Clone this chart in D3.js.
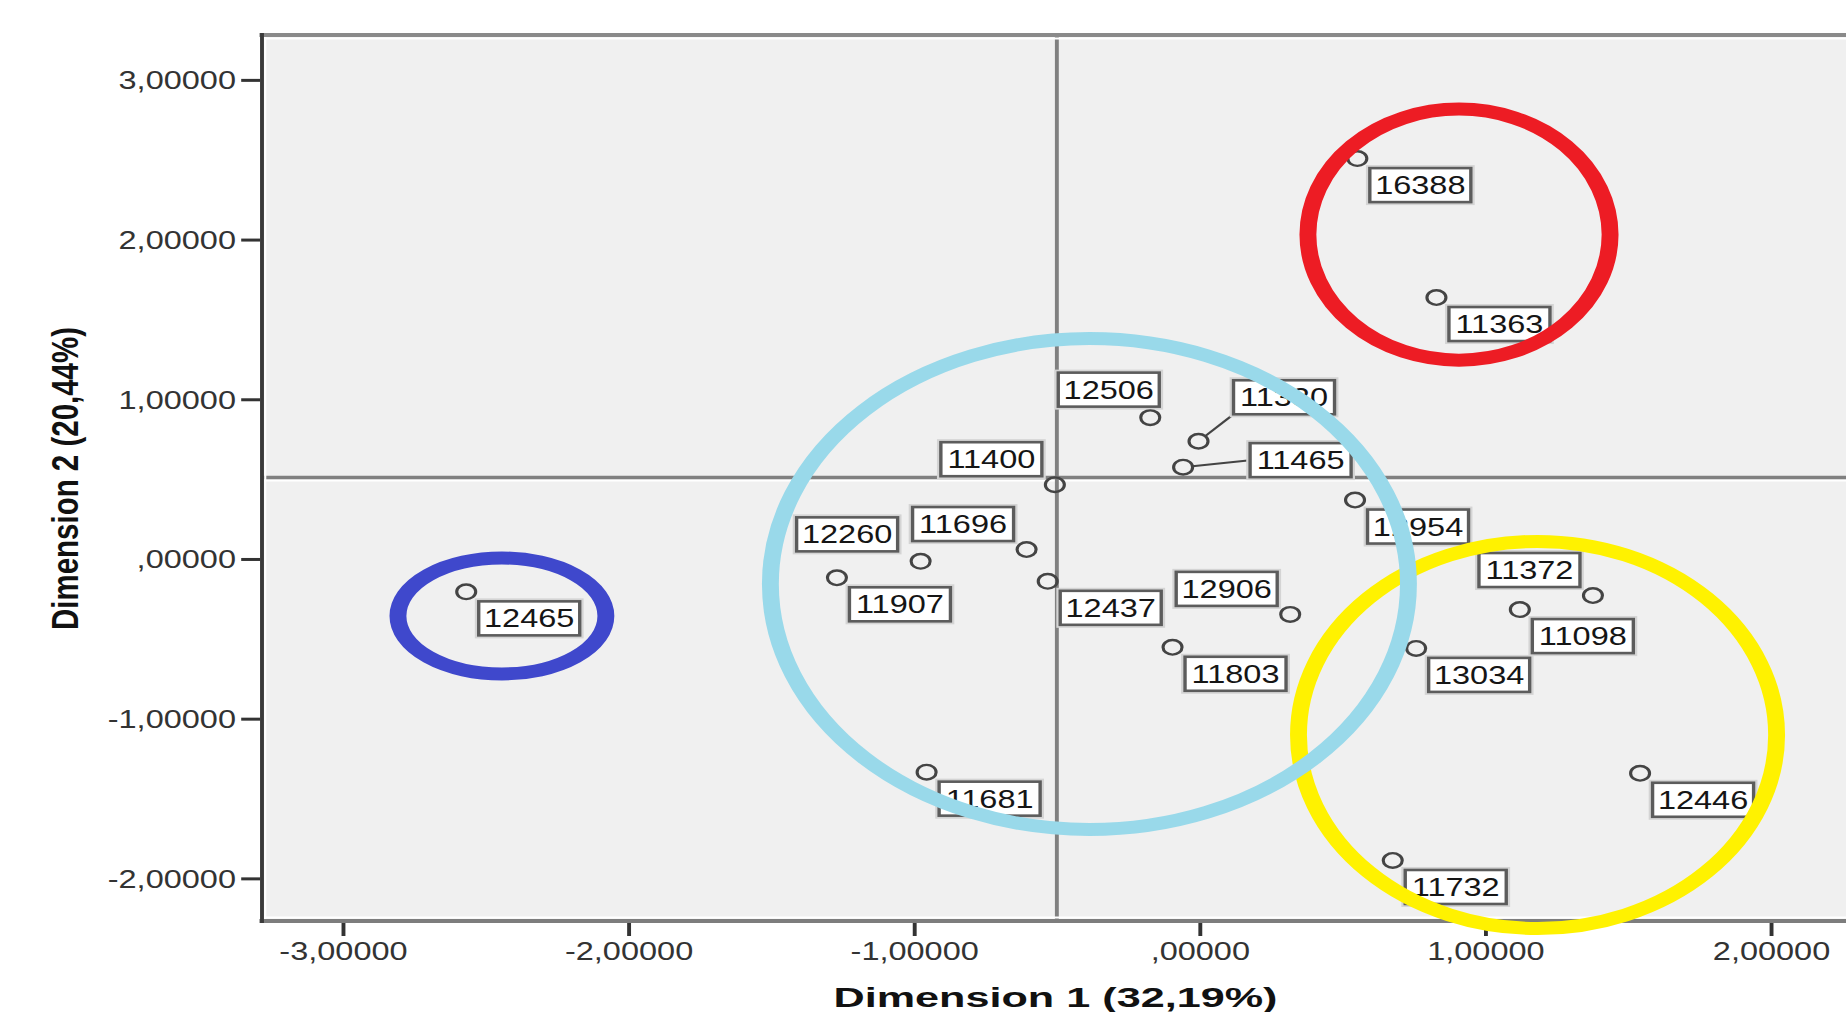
<!DOCTYPE html>
<html>
<head>
<meta charset="utf-8">
<script src="https://cdn.jsdelivr.net/npm/d3@7"></script>
<style>
  body { margin: 0; background: #ffffff; }
  svg { display: block; }
</style>
</head>
<body>
<svg id="chart" width="1846" height="1012"></svg>
<script>
// Object scores on the first two dimensions, one entry per case id
const caseIds = ["16388", "11363", "12506", "11330", "11465", "11400", "12954", "11696", "12260", "11907",
                 "12437", "12906", "11803", "11372", "11098", "13034", "12446", "11732", "11681", "12465"];
const dim1Scores = [0.552, 0.829, -0.173, -0.004, -0.058, -0.507, 0.544, -0.606, -0.977, -1.270,
                    -0.532, 0.317, -0.095, 1.377, 1.121, 0.758, 1.542, 0.676, -0.956, -2.568];
const dim2Scores = [2.507, 1.637, 0.885, 0.737, 0.575, 0.465, 0.369, 0.059, -0.015, -0.118,
                    -0.140, -0.347, -0.553, -0.229, -0.317, -0.560, -1.342, -1.888, -1.335, -0.206];

// Axis ticks with comma decimal labels
const xTickValues = [-3, -2, -1, 0, 1, 2];
const xTickLabels = ["-3,00000", "-2,00000", "-1,00000", ",00000", "1,00000", "2,00000"];
const yTickValues = [3, 2, 1, 0, -1, -2];
const yTickLabels = ["3,00000", "2,00000", "1,00000", ",00000", "-1,00000", "-2,00000"];

const xTitle = "Dimension 1 (32,19%)";
const yTitle = "Dimension 2 (20,44%)";

// Reference lines (score units)
const refX = -0.5;
const refY = 0.51;

// Cluster outlines: centre and radii in score units
const clusterCx = [1.183, -0.386, 0.908, -2.443];
const clusterCy = [-1.102, -0.157, 2.031, -0.357];
const clusterRx = [0.837, 1.117, 0.529, 0.364];
const clusterRy = [1.212, 1.537, 0.786, 0.363];

// ---------- layout and style ----------
const SX = 1.3;                       // horizontal stretch of the whole figure
const FONT = "'Liberation Sans', Arial, Helvetica, sans-serif";
const clusterColors = ["#fff200", "#99d9ea", "#ed1c24", "#3f48cc"];
const plot = { left: 262, top: 35, bottom: 921, right: 1858 };

// label box placement relative to its point (screen px, box top-left)
const placeBR = [12.5, 9.5];
const placeTL = [-114, -42.5];
const labelPlacement = {
  "12506": [-92, -45], "11330": [35, -61], "11465": [67, -24], "12260": [-124, -44],
  "11400": placeTL, "11696": placeTL, "12906": placeTL, "11372": placeTL
};
const leaderTo = { "11330": "bottomLeft", "11465": "midLeft" };
const BOX_W = 101, BOX_H = 34, PT_R = 7.3;

const svg = d3.select("#chart");
const root = svg.append("g").attr("transform", `scale(${SX},1)`);

const x = d3.scaleLinear().domain([-3.283, 2.305]).range([plot.left / SX, plot.right / SX]);
const y = d3.scaleLinear().domain([-2.267, 3.281]).range([plot.bottom, plot.top]);

const L = plot.left / SX, R = plot.right / SX;

// plot background
root.append("rect")
  .attr("x", L).attr("y", plot.top)
  .attr("width", R - L).attr("height", plot.bottom - plot.top)
  .attr("fill", "#f0f0f0");

// reference lines
root.append("line").attr("x1", L).attr("x2", R).attr("y1", y(refY) + 3).attr("y2", y(refY) + 3)
  .attr("stroke", "#ffffff").attr("stroke-width", 2);
root.append("line").attr("x1", L).attr("x2", R).attr("y1", y(refY)).attr("y2", y(refY))
  .attr("stroke", "#808080").attr("stroke-width", 3.5);
root.append("line").attr("x1", x(refX)).attr("x2", x(refX)).attr("y1", plot.top).attr("y2", plot.bottom)
  .attr("stroke", "#808080").attr("stroke-width", 3);

// frame
root.append("line").attr("x1", L).attr("x2", R).attr("y1", plot.top + 3.5).attr("y2", plot.top + 3.5)
  .attr("stroke", "#ffffff").attr("stroke-width", 2);
root.append("line").attr("x1", L).attr("x2", R).attr("y1", plot.bottom - 3.5).attr("y2", plot.bottom - 3.5)
  .attr("stroke", "#ffffff").attr("stroke-width", 2);
root.append("line").attr("x1", L + 2.5).attr("x2", L + 2.5).attr("y1", plot.top).attr("y2", plot.bottom)
  .attr("stroke", "#ffffff").attr("stroke-width", 1.6);
root.append("line").attr("x1", L - 2).attr("x2", R).attr("y1", plot.top).attr("y2", plot.top)
  .attr("stroke", "#8a8a8a").attr("stroke-width", 4);
root.append("line").attr("x1", L - 2).attr("x2", R).attr("y1", plot.bottom).attr("y2", plot.bottom)
  .attr("stroke", "#7d7d7d").attr("stroke-width", 4);
root.append("line").attr("x1", L).attr("x2", L).attr("y1", plot.top - 2).attr("y2", plot.bottom + 2)
  .attr("stroke", "#3a3a3a").attr("stroke-width", 3);

// axes
const xAxisG = root.append("g")
  .attr("transform", `translate(0,${plot.bottom + 2})`)
  .call(d3.axisBottom(x).tickValues(xTickValues)
    .tickFormat((d, i) => xTickLabels[i]).tickSize(13).tickPadding(6));
xAxisG.select(".domain").remove();
xAxisG.attr("font-size", 25).attr("font-family", FONT);
xAxisG.selectAll(".tick line").attr("stroke", "#333").attr("stroke-width", 3);
xAxisG.selectAll(".tick text").attr("fill", "#333");

const yAxisG = root.append("g")
  .attr("transform", `translate(${L - 1.5},0)`)
  .call(d3.axisLeft(y).tickValues(yTickValues)
    .tickFormat((d, i) => yTickLabels[i]).tickSize(14.5).tickPadding(4));
yAxisG.select(".domain").remove();
yAxisG.attr("font-size", 25).attr("font-family", FONT);
yAxisG.selectAll(".tick line").attr("stroke", "#333").attr("stroke-width", 3);
yAxisG.selectAll(".tick text").attr("fill", "#333").attr("dy", "0.36em");

// axis titles
root.append("text")
  .attr("x", 1055.5 / SX).attr("y", 1007)
  .attr("text-anchor", "middle")
  .attr("font-family", FONT).attr("font-weight", "bold").attr("font-size", 28)
  .attr("textLength", 444 / SX).attr("lengthAdjust", "spacingAndGlyphs")
  .attr("fill", "#111")
  .text(xTitle);

root.append("text")
  .attr("transform", `translate(${65 / SX},478.5) rotate(-90)`)
  .attr("text-anchor", "middle").attr("dy", "0.36em")
  .attr("font-family", FONT).attr("font-weight", "bold").attr("font-size", 28)
  .attr("textLength", 303).attr("lengthAdjust", "spacingAndGlyphs")
  .attr("fill", "#111")
  .text(yTitle);

// points and their labels
const points = caseIds.map((id, i) => ({ id, px: x(dim1Scores[i]), py: y(dim2Scores[i]) }));

const labelG = root.append("g");
points.forEach(p => {
  const off = labelPlacement[p.id] || placeBR;
  const bx = p.px + off[0] / SX, by = p.py + off[1];
  const bw = BOX_W / SX;

  if (leaderTo[p.id]) {
    const tx = bx, ty = leaderTo[p.id] === "bottomLeft" ? by + BOX_H : by + BOX_H / 2;
    const dx = tx - p.px, dy = ty - p.py, len = Math.hypot(dx, dy);
    labelG.append("line")
      .attr("x1", p.px + dx / len * PT_R).attr("y1", p.py + dy / len * PT_R)
      .attr("x2", tx).attr("y2", ty)
      .attr("stroke", "#444").attr("stroke-width", 2);
  }

  labelG.append("rect")
    .attr("x", bx).attr("y", by).attr("width", bw).attr("height", BOX_H)
    .attr("fill", "none").attr("stroke", "#d4d4d4").attr("stroke-width", 6);
  labelG.append("rect")
    .attr("x", bx).attr("y", by).attr("width", bw).attr("height", BOX_H)
    .attr("fill", "#ffffff").attr("stroke", "#5c5c5c").attr("stroke-width", 2.6);
  labelG.append("text")
    .attr("x", bx + bw / 2).attr("y", by + BOX_H / 2 + 9)
    .attr("text-anchor", "middle")
    .attr("font-family", FONT).attr("font-size", 25).attr("fill", "#151515")
    .text(p.id);
});

root.append("g").selectAll("circle").data(points).join("circle")
  .attr("cx", d => d.px).attr("cy", d => d.py).attr("r", PT_R)
  .attr("fill", "none").attr("stroke", "#444").attr("stroke-width", 2.4);

// cluster outlines drawn over everything
root.append("g").selectAll("ellipse").data(clusterCx.map((c, i) => i)).join("ellipse")
  .attr("cx", i => x(clusterCx[i]))
  .attr("cy", i => y(clusterCy[i]))
  .attr("rx", i => x(clusterCx[i] + clusterRx[i]) - x(clusterCx[i]))
  .attr("ry", i => y(clusterCy[i] - clusterRy[i]) - y(clusterCy[i]))
  .attr("fill", "none")
  .attr("stroke", i => clusterColors[i])
  .attr("stroke-width", 13);
</script>
</body>
</html>
